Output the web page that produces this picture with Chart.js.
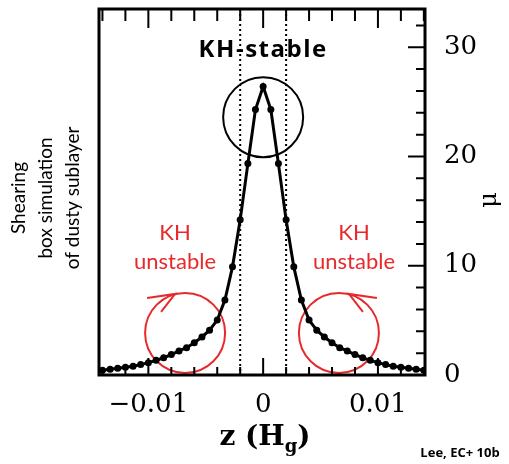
<!DOCTYPE html>
<html>
<head>
<meta charset="utf-8">
<script src="https://cdn.jsdelivr.net/npm/chart.js@4/dist/chart.umd.min.js"></script>
<style>
  html, body { margin: 0; padding: 0; background: #fff; }
  #wrap { width: 509px; height: 464px; }
</style>
</head>
<body>
<div id="wrap"><canvas id="chart"></canvas></div>
<script>
// Profile of mu versus z
const zValues = [
  -0.01400, -0.01333, -0.01267, -0.01200, -0.01133, -0.01067, -0.01000, -0.00933,
  -0.00867, -0.00800, -0.00733, -0.00667, -0.00600, -0.00533, -0.00467, -0.00400,
  -0.00333, -0.00267, -0.00200, -0.00133, -0.00067, 0,
  0.00067, 0.00133, 0.00200, 0.00267, 0.00333, 0.00400, 0.00467, 0.00533,
  0.00600, 0.00667, 0.00733, 0.00800, 0.00867, 0.00933, 0.01000, 0.01067,
  0.01133, 0.01200, 0.01267, 0.01333, 0.01400
];
const muValues = [
  0.44, 0.52, 0.61, 0.71, 0.81, 0.95, 1.13, 1.34,
  1.58, 1.87, 2.2, 2.5, 2.95, 3.48, 4.1, 5.03,
  6.86, 9.9, 14.2, 19.35, 24.3, 26.4,
  24.3, 19.35, 14.2, 9.9, 6.86, 5.03, 4.1, 3.48,
  2.95, 2.5, 2.2, 1.87, 1.58, 1.34, 1.13, 0.95,
  0.81, 0.71, 0.61, 0.52, 0.44
];

// Axis settings
const xRange = [-0.0143, 0.0141];
const yRange = [0, 33.5];
const xMinorStep = 0.002;
const xMajorStep = 0.01;
const yMinorStep = 2;
const yMajorStep = 10;

// KH-stable band edges (dotted lines)
const stableEdges = [-0.002, 0.002];

// Annotation circles: centres in data units
const stableCircle = { z: 0, mu: 23.6 };
const unstableCircles = [{ z: -0.0068, mu: 3.85, dir: 1 }, { z: 0.0066, mu: 3.85, dir: -1 }];

const RED = '#e8292b';

function isMultiple(v, step) {
  const r = v / step;
  return Math.abs(r - Math.round(r)) < 1e-6;
}

const frameAndTicks = {
  id: 'frameAndTicks',
  afterDatasetsDraw(chart) {
    const { ctx, chartArea: a, scales: { x, y } } = chart;
    ctx.save();
    ctx.strokeStyle = '#000';
    ctx.lineWidth = 2;
    ctx.beginPath();
    x.ticks.forEach(t => {
      const px = x.getPixelForValue(t.value);
      const major = isMultiple(t.value, xMajorStep);
      ctx.moveTo(px, a.bottom); ctx.lineTo(px, a.bottom - (major ? 17 : 8));
      ctx.moveTo(px, a.top); ctx.lineTo(px, a.top + (major ? 19 : 12));
    });
    y.ticks.forEach(t => {
      const py = y.getPixelForValue(t.value);
      const major = isMultiple(t.value, yMajorStep);
      ctx.moveTo(a.right, py); ctx.lineTo(a.right - (major ? 17 : 9), py);
    });
    ctx.stroke();
    ctx.lineWidth = 3;
    ctx.strokeRect(a.left, a.top, a.right - a.left, a.bottom - a.top);
    ctx.restore();
  }
};

const annotations = {
  id: 'annotations',
  beforeDatasetsDraw(chart) {
    const { ctx, chartArea: a, scales: { x, y } } = chart;
    ctx.save();
    // dotted lines
    ctx.strokeStyle = '#000';
    ctx.lineWidth = 2;
    ctx.setLineDash([2, 3]);
    stableEdges.forEach(z => {
      const px = x.getPixelForValue(z);
      ctx.beginPath();
      ctx.moveTo(px, a.top);
      ctx.lineTo(px, a.bottom);
      ctx.stroke();
    });
    ctx.setLineDash([]);
    // stable circle
    ctx.lineWidth = 2;
    ctx.beginPath();
    ctx.arc(x.getPixelForValue(stableCircle.z), y.getPixelForValue(stableCircle.mu), 40, 0, Math.PI * 2);
    ctx.stroke();
    // unstable circles with arrows
    ctx.strokeStyle = RED;
    unstableCircles.forEach(c => {
      const cx = x.getPixelForValue(c.z);
      const cy = y.getPixelForValue(c.mu);
      ctx.beginPath();
      ctx.arc(cx, cy, 40, 0, Math.PI * 2);
      ctx.stroke();
      const tipX = cx - c.dir * 10, tipY = cy - 39;
      ctx.beginPath();
      ctx.moveTo(tipX - c.dir * 28, tipY + 4);
      ctx.lineTo(tipX, tipY);
      ctx.lineTo(tipX - c.dir * 14, tipY + 18);
      ctx.stroke();
    });
    ctx.restore();
  },
  afterDraw(chart) {
    const { ctx, scales: { x } } = chart;
    ctx.save();
    ctx.textAlign = 'center';
    ctx.textBaseline = 'middle';
    // KH-stable label
    ctx.fillStyle = '#000';
    ctx.font = 'bold 24px "Open Sans"';
    ctx.letterSpacing = '1.5px';
    ctx.fillText('KH-stable', x.getPixelForValue(0), 50);
    ctx.letterSpacing = '0px';
    // KH unstable labels
    ctx.fillStyle = RED;
    ctx.font = '22px Lato';
    [175, 354].forEach(px => {
      ctx.fillText('KH', px, 233);
      ctx.fillText('unstable', px, 262);
    });
    // left rotated note
    ctx.fillStyle = '#000';
    ctx.font = '19px Lato';
    ctx.save();
    ctx.translate(0, 198);
    ctx.rotate(-Math.PI / 2);
    ctx.fillText('Shearing', 0, 19);
    ctx.fillText('box simulation', 0, 46);
    ctx.fillText('of dusty sublayer', 0, 73);
    ctx.restore();
    // y-axis symbol
    ctx.save();
    ctx.font = '24px "DejaVu Serif"';
    ctx.translate(490, 200);
    ctx.rotate(-Math.PI / 2);
    ctx.fillText('μ', 0, 0);
    ctx.restore();
    // x-axis title with subscript
    ctx.textAlign = 'left';
    ctx.textBaseline = 'alphabetic';
    const big = 'bold 28px "DejaVu Serif"', small = 'bold 18px "DejaVu Serif"';
    ctx.font = big;
    const w1 = ctx.measureText('z (H').width, w3 = ctx.measureText(')').width;
    ctx.font = small;
    const w2 = ctx.measureText('g').width;
    let sx = 265 - (w1 + w2 + w3) / 2;
    const base = 445;
    ctx.font = big; ctx.fillText('z (H', sx, base); sx += w1;
    ctx.font = small; ctx.fillText('g', sx, base + 7); sx += w2;
    ctx.font = big; ctx.fillText(')', sx, base);
    // credit
    ctx.textAlign = 'center';
    ctx.textBaseline = 'middle';
    ctx.font = 'bold 13px "Open Sans"';
    ctx.fillText('Lee, EC+ 10b', 460, 453);
    ctx.restore();
  }
};

new Chart(document.getElementById('chart'), {
  type: 'scatter',
  data: {
    datasets: [{
      data: zValues.map((z, i) => ({ x: z, y: muValues[i] })),
      showLine: true,
      borderColor: '#000',
      borderWidth: 3,
      pointRadius: 3.5,
      pointBackgroundColor: '#000',
      pointBorderWidth: 0,
      tension: 0
    }]
  },
  options: {
    responsive: true,
    maintainAspectRatio: false,
    animation: false,
    layout: { padding: { left: 99, top: 9, right: 0, bottom: 0 } },
    plugins: { legend: { display: false }, tooltip: { enabled: false } },
    scales: {
      x: {
        type: 'linear',
        min: xRange[0],
        max: xRange[1],
        grid: { display: false, drawTicks: false },
        border: { display: false },
        afterFit(scale) { scale.height = 89; scale.paddingLeft = 0; scale.paddingRight = 0; },
        ticks: {
          stepSize: xMinorStep,
          includeBounds: false,
          autoSkip: false,
          maxRotation: 0,
          padding: 15,
          color: '#000',
          font: { family: 'DejaVu Serif', size: 26 },
          callback: v => isMultiple(v, xMajorStep) ? (Math.abs(v) < 1e-9 ? '0' : (v < 0 ? '\u2212' : '') + Math.abs(v).toFixed(2)) : ''
        }
      },
      y: {
        type: 'linear',
        position: 'right',
        min: yRange[0],
        max: yRange[1],
        grid: { display: false, drawTicks: false },
        border: { display: false },
        afterFit(scale) { scale.width = 84; scale.paddingTop = 0; scale.paddingBottom = 0; },
        ticks: {
          stepSize: yMinorStep,
          includeBounds: false,
          autoSkip: false,
          padding: 19,
          color: '#000',
          font: { family: 'DejaVu Serif', size: 26 },
          callback: v => isMultiple(v, yMajorStep) ? String(Math.round(v)) : ''
        }
      }
    }
  },
  plugins: [annotations, frameAndTicks]
});
</script>
</body>
</html>
